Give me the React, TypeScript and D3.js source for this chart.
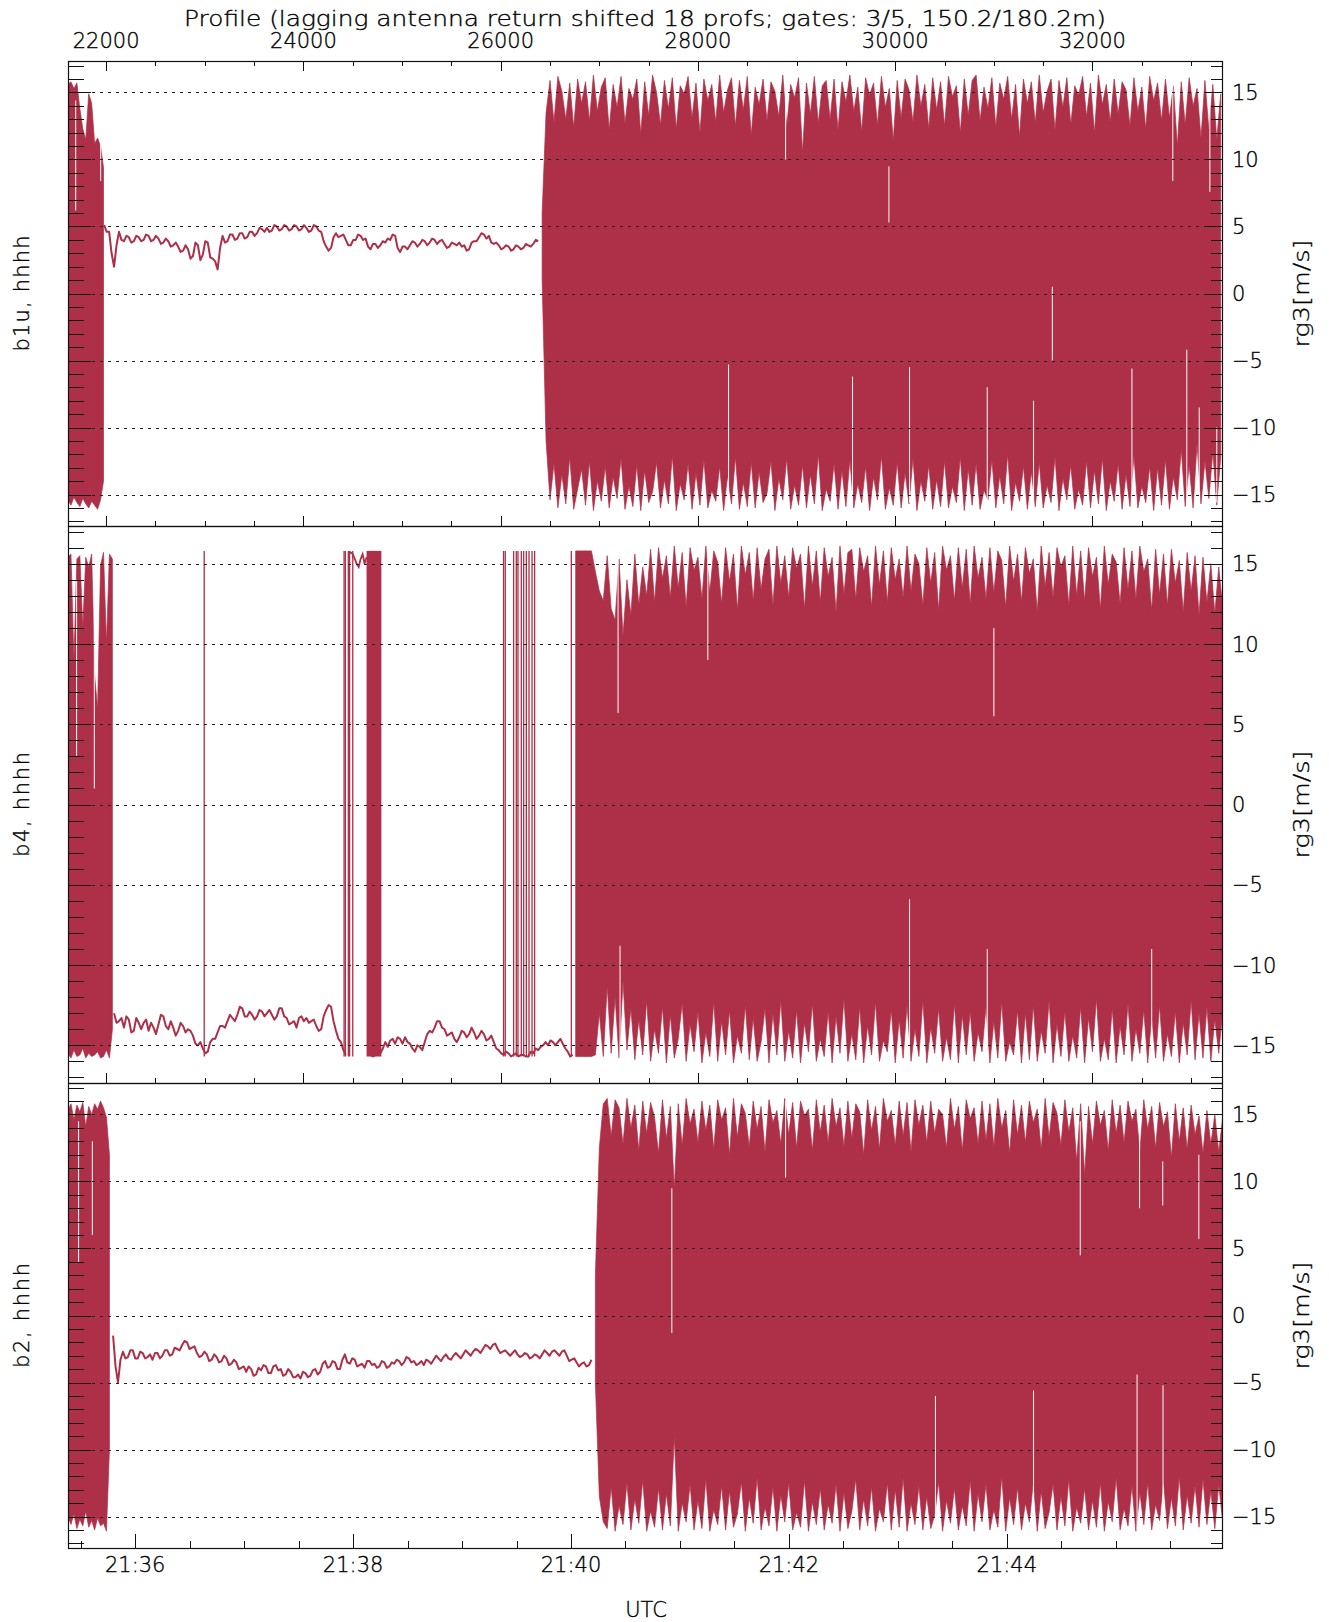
import { useEffect, useRef } from "react";
import * as d3 from "d3";

// ---------- axes and labels ----------
const title = "Profile (lagging antenna return shifted 18 profs; gates: 3/5, 150.2/180.2m)";
const profileDomain = [21613, 33313];
const timeStart = [21, 35, 23.0];
const timeEnd = [21, 45, 58.5];
const yDomain = [-17.35, 17.35];
const yGrid = [-15, -10, -5, 0, 5, 10, 15];
const panelLabels = ["b1u, hhhh", "b4, hhhh", "b2, hhhh"];
const unitLabel = "rg3[m/s]";
const timeLabel = "UTC";

// ---------- b1u ----------
const b1uBlockStart = 21613, b1uBlockStep = 30;
const b1uBlockTop = [15.6, 15.8, 15.3, 15.7, 13.8, 12.3, 11.5, 14.9, 14.2, 11.2, 11.6, 11.0, 9.4];
const b1uBlockBot = [-15.4, -15.8, -15.2, -15.6, -15.9, -15.3, -15.7, -16.0, -15.5, -15.8, -16.1, -15.4, -14.0];
const b1uQuietStart = 21980, b1uQuietStep = 25;
const b1uQuiet = [
  5.1, 4.6, 4.6, 3.0, 2.0, 3.6, 4.6, 4.0, 3.9, 4.3,
  4.2, 3.8, 3.9, 4.3, 4.2, 3.9, 4.0, 4.4, 4.3, 3.9,
  4.0, 4.3, 4.1, 3.7, 3.8, 4.1, 3.9, 3.5, 3.6, 3.8,
  3.5, 3.1, 3.2, 3.6, 3.3, 2.6, 2.8, 3.8, 3.6, 2.5,
  2.9, 3.9, 3.8, 2.7, 2.6, 2.4, 1.8, 3.4, 4.3, 3.8,
  3.9, 4.4, 4.4, 4.0, 4.1, 4.5, 4.5, 4.1, 4.2, 4.6,
  4.6, 4.3, 4.5, 4.9, 4.8, 4.6, 4.9, 4.6, 4.7, 5.1,
  5.0, 4.7, 4.8, 5.1, 5.0, 4.7, 4.8, 5.1, 5.0, 4.7,
  4.8, 5.1, 4.9, 4.6, 4.7, 5.1, 5.0, 4.7, 4.6, 3.9,
  3.5, 3.2, 3.4, 4.2, 4.5, 4.2, 4.3, 4.4, 4.0, 3.6,
  3.6, 4.0, 4.0, 4.4, 4.3, 4.0, 4.1, 3.5, 3.3, 3.7,
  3.7, 3.4, 3.6, 3.9, 3.8, 4.1, 4.0, 4.4, 4.3, 3.4,
  3.1, 3.5, 3.5, 3.3, 3.6, 3.9, 3.8, 3.5, 3.7, 4.0,
  3.9, 3.6, 3.8, 4.1, 4.0, 3.7, 3.9, 4.0, 3.7, 3.4,
  3.5, 3.8, 3.7, 3.6, 3.8, 3.5, 3.6, 3.2, 3.3, 3.8,
  3.9, 3.9, 4.2, 4.5, 4.4, 4.1, 4.3, 3.8, 3.7, 3.8,
  3.6, 3.3, 3.4, 3.6, 3.5, 3.2, 3.3, 3.6, 3.5, 3.3,
  3.4, 3.7, 3.6, 3.5, 3.7, 4.0, 3.9,
];
const b1uNoiseStart = 26420, b1uNoiseStep = 40;
const b1uNoiseTop = [
  6.0, 13.5, 15.9, 12.8, 16.2, 15.1, 13.0, 15.7, 12.4, 16.0,
  14.2, 15.8, 12.9, 16.3, 13.6, 15.4, 16.1, 12.2, 15.6, 13.9,
  16.2, 12.7, 15.3, 14.5, 16.0, 11.9, 15.8, 13.3, 16.3, 15.0,
  12.6, 15.9, 13.8, 16.1, 12.3, 15.5, 14.9, 16.2, 13.1, 15.7,
  12.0, 16.0, 14.4, 15.6, 12.8, 16.3, 13.5, 15.2, 16.1, 12.5,
  15.9, 13.7, 16.2, 11.8, 15.4, 14.1, 16.0, 12.9, 15.8, 15.1,
  13.2, 16.3, 12.4, 15.6, 14.6, 16.1, 10.5, 15.7, 13.4, 16.2,
  12.7, 15.5, 15.9, 13.0, 16.0, 12.2, 15.8, 14.3, 16.3, 13.6,
  15.4, 12.1, 16.1, 14.8, 15.7, 12.6, 16.2, 13.9, 15.3, 11.4,
  15.9, 13.1, 16.0, 15.2, 12.8, 16.3, 14.0, 15.6, 12.3, 16.1,
  13.7, 15.8, 12.5, 16.2, 14.7, 15.5, 12.0, 16.0, 13.3, 15.9,
  16.3, 12.9, 15.4, 13.8, 16.1, 12.4, 15.7, 14.5, 16.2, 13.0,
  15.6, 11.7, 16.0, 14.2, 15.8, 12.7, 16.3, 13.5, 15.1, 16.0,
  12.2, 15.9, 13.9, 16.1, 12.6, 15.5, 14.8, 16.2, 13.2, 15.7,
  12.0, 16.3, 14.1, 15.6, 12.8, 16.0, 13.4, 15.8, 15.2, 12.5,
  16.1, 13.6, 15.4, 12.3, 16.2, 14.4, 15.7, 12.9, 16.0, 13.1,
  15.5, 11.0, 15.8, 12.6, 16.1, 14.0, 15.3, 11.6, 15.9, 12.2,
  15.6, 11.5, 14.9,
];
const b1uNoiseBot = [
  1.0, -11.0, -15.4, -12.7, -16.0, -13.5, -15.7, -12.2, -16.1, -14.6,
  -13.1, -15.8, -12.5, -16.2, -14.0, -15.5, -12.9, -16.0, -13.7, -15.3,
  -12.3, -16.1, -14.4, -15.9, -12.8, -16.2, -13.2, -15.6, -14.8, -12.6,
  -16.0, -13.9, -15.7, -12.1, -16.2, -14.2, -15.4, -12.7, -16.1, -13.4,
  -15.8, -12.4, -16.0, -14.7, -15.5, -12.9, -16.2, -13.6, -15.7, -12.2,
  -16.1, -14.1, -15.9, -12.6, -16.0, -13.3, -15.6, -14.9, -12.5, -16.2,
  -13.8, -15.4, -12.3, -16.1, -14.3, -15.8, -12.8, -16.0, -13.5, -15.7,
  -12.0, -16.2, -14.6, -15.5, -12.7, -16.1, -13.2, -15.9, -12.4, -16.0,
  -14.2, -15.6, -12.9, -16.2, -13.7, -15.4, -12.1, -16.1, -14.5, -15.8,
  -12.6, -16.0, -13.4, -15.7, -12.3, -16.2, -14.0, -15.5, -12.8, -16.1,
  -13.9, -15.9, -12.5, -16.0, -14.4, -15.6, -12.2, -16.2, -13.1, -15.8,
  -12.7, -16.1, -14.7, -15.4, -12.4, -16.0, -13.6, -15.7, -12.0, -16.2,
  -14.1, -15.5, -12.9, -16.1, -13.3, -15.9, -12.6, -16.0, -14.3, -15.6,
  -12.2, -16.2, -13.8, -15.4, -12.8, -16.1, -14.6, -15.8, -12.5, -16.0,
  -13.2, -15.7, -12.3, -16.2, -14.0, -15.5, -12.7, -16.1, -13.5, -15.9,
  -12.1, -16.0, -14.4, -15.6, -12.9, -16.2, -13.0, -15.8, -12.4, -16.1,
  -13.7, -15.4, -11.6, -15.9, -12.8, -16.0, -11.2, -15.7, -12.5, -15.3,
  -11.8, -15.8, -12.2,
];
// [profile, low, high] of white streaks inside the filled noise
const b1uGaps = [
  [21691, 6.2, 14.4], [21944, 8.4, 11.4],
  [28310, -15.6, -5.3], [28888, 10.0, 15.8], [29567, -15.6, -6.2], [29936, 5.3, 9.5],
  [30145, -15.6, -5.5], [30933, -15.6, -7.0], [31402, -15.6, -8.0], [31593, -5.0, 0.5],
  [32400, -15.6, -5.6], [32814, 8.4, 15.8], [32956, -15.6, -4.2], [33082, -15.6, -8.5],
  [33190, 7.6, 15.8], [33260, -15.6, -10.0],
];

// ---------- b4 ----------
const b4BlockStart = 21613, b4BlockStep = 30;
const b4BlockTop = [15.4, 15.6, 9.0, 15.3, 15.5, 11.0, 15.4, 14.8, 15.6, 8.0, 6.0, 14.9, 15.7, 10.0, 15.6, 15.3];
const b4BlockBot = [-15.5, -15.8, -15.3, -15.7, -15.6, -15.2, -15.8, -15.5, -15.7, -15.6, -15.4, -15.8, -15.7, -15.3, -15.8, -14.0];
const b4QuietStart = 22080, b4QuietStep = 25;
const b4Quiet = [
  -13.0, -13.6, -13.5, -13.3, -13.9, -13.2, -13.4, -14.2, -14.1, -13.3,
  -13.6, -14.0, -13.6, -13.4, -14.1, -13.6, -13.9, -14.3, -13.7, -13.1,
  -13.2, -13.8, -14.0, -13.5, -13.9, -14.4, -14.1, -13.6, -13.8, -14.2,
  -14.0, -14.1, -14.4, -14.9, -15.0, -14.8, -15.2, -15.5, -15.4, -14.8,
  -14.6, -14.6, -14.2, -13.8, -13.8, -13.9, -13.5, -13.1, -13.3, -13.5,
  -13.1, -12.6, -12.7, -13.2, -13.2, -12.9, -13.1, -13.4, -13.2, -12.8,
  -12.9, -13.2, -13.0, -12.8, -13.1, -13.4, -13.2, -12.7, -12.7, -13.2,
  -13.3, -13.7, -13.6, -13.5, -13.9, -13.3, -13.2, -13.5, -13.3, -13.6,
  -13.5, -13.4, -13.8, -14.1, -14.0, -13.2, -12.8, -12.5, -12.6, -13.5,
  -14.1, -14.6, -14.8, -15.3, -15.6, null, null, null, null, null,
  null, null, null, -15.6, -15.6, -15.7, -15.6, -15.5, -15.5, -15.2,
  -14.8, -15.1, -14.7, -14.6, -14.9, -14.5, -14.6, -14.9, -14.5, -14.8,
  -14.9, -15.2, -15.4, -15.0, -15.1, -15.3, -14.8, -14.3, -14.1, -14.2,
  -13.9, -13.5, -13.5, -13.9, -14.0, -14.4, -14.3, -14.2, -14.6, -14.8,
  -14.5, -14.1, -14.2, -14.5, -14.3, -13.9, -14.2, -14.6, -14.4, -14.1,
  -14.3, -14.7, -14.6, -14.4, -14.8, -15.2, -15.3, -15.5, -15.6, -15.4,
  -15.5, -15.7, -15.6, -15.5, -15.7, -15.6, -15.6, -15.7, -15.7, -15.4,
  -15.5, -15.2, -15.3, -15.1, -15.0, -14.8, -15.0, -14.7, -14.8, -15.0,
  -14.8, -14.6, -14.9, -15.2, -15.4, -15.7, -15.6,
];
// aliased stretch where the signal wrapped to the top of the range
const b4WrapStart = 24460, b4WrapStep = 20;
const b4Wrap = [15.7, 15.7, 15.6, 15.3, 15.0, 14.8, 15.3, 15.6, 15.0, 15.4];
// single full-range jumps (profile numbers)
const b4Jumps = [22994, 24412, 24425, 24455, 24468, 24500, 26029, 26046, 26131, 26158, 26175, 26209, 26233, 26260, 26287, 26318, 26344, 26716];
// stretches of continuous jumping [from, to]
const b4Solid = [[24640, 24790]];
const b4NoiseStart = 26760, b4NoiseStep = 40;
const b4NoiseTop = [
  15.8, 15.8, 15.8, 15.8, 15.8, 14.5, 13.3, 12.7, 15.5, 12.2,
  11.5, 15.3, 10.5, 14.0, 11.8, 15.6, 12.4, 14.8, 13.0, 15.9,
  12.6, 16.0, 14.1, 15.5, 12.9, 16.1, 13.5, 15.7, 12.3, 16.0,
  14.6, 15.4, 12.8, 16.1, 13.2, 15.8, 15.1, 12.5, 16.0, 13.9,
  15.6, 12.1, 16.1, 14.3, 15.7, 12.7, 16.0, 13.4, 15.3, 15.9,
  12.4, 16.1, 13.8, 15.5, 12.9, 16.0, 14.7, 15.6, 12.2, 16.1,
  13.6, 15.8, 12.6, 16.0, 14.2, 15.4, 12.0, 16.1, 13.1, 15.7,
  15.9, 12.8, 16.0, 14.5, 15.5, 12.3, 16.1, 13.7, 15.8, 12.6,
  16.0, 14.0, 15.3, 12.9, 16.1, 13.3, 15.6, 15.0, 12.4, 16.0,
  13.8, 15.7, 12.1, 16.1, 14.6, 15.5, 12.7, 16.0, 13.5, 15.9,
  12.5, 16.1, 14.1, 15.4, 12.8, 16.0, 13.2, 15.8, 15.2, 12.3,
  16.1, 13.9, 15.6, 12.6, 16.0, 14.4, 15.3, 12.0, 16.1, 13.6,
  15.7, 12.9, 16.0, 14.8, 15.5, 12.4, 16.1, 13.0, 15.8, 12.7,
  16.0, 14.2, 15.4, 12.2, 16.1, 13.7, 15.6, 15.1, 12.5, 16.0,
  13.4, 15.8, 12.8, 16.1, 14.5, 15.3, 12.1, 15.9, 13.1, 15.6,
  12.4, 15.9, 13.8, 15.2, 12.0, 15.7, 13.3, 15.5, 11.8, 15.4,
  12.6, 15.0, 11.9, 14.8, 12.3,
];
const b4NoiseBot = [
  -15.7, -15.7, -15.7, -15.7, -15.7, -15.6, -13.0, -15.7, -11.3, -15.5,
  -12.0, -15.8, -11.0, -15.3, -12.7, -15.9, -13.4, -15.6, -12.2, -16.0,
  -14.0, -15.5, -12.6, -16.1, -13.1, -15.8, -14.6, -12.4, -16.0, -13.7,
  -15.4, -12.9, -16.1, -14.2, -15.7, -12.3, -16.0, -13.5, -15.6, -12.8,
  -16.1, -14.4, -15.5, -12.5, -15.9, -13.3, -16.0, -14.8, -12.7, -16.1,
  -13.0, -15.6, -12.2, -16.0, -14.1, -15.8, -12.8, -16.1, -13.6, -15.4,
  -12.4, -16.0, -14.6, -15.7, -12.9, -16.1, -13.2, -15.5, -12.1, -16.0,
  -14.3, -15.9, -12.6, -16.1, -13.8, -15.6, -12.3, -16.0, -14.7, -15.4,
  -12.8, -16.1, -13.4, -15.8, -12.5, -16.0, -14.0, -15.7, -12.2, -16.1,
  -13.9, -15.5, -12.7, -16.0, -14.5, -15.9, -12.4, -16.1, -13.1, -15.6,
  -12.9, -16.0, -14.2, -15.4, -12.6, -16.1, -13.5, -15.8, -12.3, -16.0,
  -14.8, -15.6, -12.8, -16.1, -13.0, -15.9, -12.5, -16.0, -14.1, -15.5,
  -12.2, -16.1, -13.7, -15.7, -12.9, -16.0, -14.4, -15.8, -12.6, -16.1,
  -13.3, -15.4, -12.1, -16.0, -14.6, -15.9, -12.7, -16.1, -13.8, -15.6,
  -12.4, -16.0, -14.0, -15.5, -12.8, -16.1, -13.2, -15.8, -12.5, -16.0,
  -14.3, -15.7, -12.9, -16.1, -13.6, -15.6, -12.2, -15.9, -13.0, -15.8,
  -12.6, -16.0, -13.4, -15.5, -12.9,
];
const b4Gaps = [
  [21700, 3.0, 14.0], [21880, 1.0, 12.0],
  [27190, 5.7, 16.0], [27210, -16.0, -8.8], [28100, 9.0, 16.0], [30145, -16.0, -5.9],
  [30933, -16.0, -9.0], [31000, 5.5, 11.0], [32600, -16.0, -9.0],
];

// ---------- b2 ----------
const b2BlockStart = 21613, b2BlockStep = 30;
const b2BlockTop = [15.3, 15.8, 14.6, 15.7, 15.2, 15.9, 14.1, 15.6, 15.0, 15.8, 15.4, 16.0, 15.5, 14.8, 12.0];
const b2BlockBot = [-15.0, -15.6, -14.8, -15.9, -15.2, -15.7, -14.6, -15.8, -15.3, -16.0, -15.1, -15.7, -15.5, -16.1, -10.0];
const b2QuietStart = 22070, b2QuietStep = 25;
const b2Quiet = [
  -1.5, -3.8, -5.0, -3.3, -2.7, -3.2, -3.1, -2.6, -2.6, -3.2,
  -3.2, -2.7, -2.8, -3.2, -3.1, -2.9, -3.3, -2.8, -2.8, -3.2,
  -3.0, -2.6, -2.6, -3.0, -2.9, -2.4, -2.5, -2.6, -2.2, -1.9,
  -2.0, -2.5, -2.4, -2.3, -2.8, -3.1, -3.0, -2.7, -2.9, -3.4,
  -3.3, -2.9, -3.1, -3.5, -3.4, -3.0, -3.2, -3.7, -3.6, -3.3,
  -3.5, -4.0, -3.9, -3.8, -4.2, -3.8, -4.0, -4.5, -4.4, -3.9,
  -4.1, -3.7, -3.8, -4.3, -4.3, -3.8, -3.7, -4.1, -4.0, -4.5,
  -4.4, -4.0, -4.2, -4.6, -4.6, -4.4, -4.7, -4.2, -4.3, -4.6,
  -4.5, -4.1, -4.0, -4.4, -4.2, -3.6, -3.4, -3.9, -3.8, -3.4,
  -3.5, -4.0, -4.0, -3.3, -2.9, -3.5, -3.6, -3.2, -3.3, -3.8,
  -3.7, -3.6, -3.9, -3.4, -3.4, -3.7, -3.6, -3.9, -3.8, -3.4,
  -3.5, -3.9, -3.8, -3.5, -3.6, -3.3, -3.4, -3.7, -3.5, -3.1,
  -3.2, -3.5, -3.4, -3.7, -3.6, -3.4, -3.7, -3.3, -3.4, -3.6,
  -3.3, -3.0, -3.2, -3.4, -3.1, -2.9, -3.2, -3.3, -3.0, -2.8,
  -3.0, -3.2, -2.9, -2.6, -2.8, -3.0, -2.7, -2.5, -2.6, -2.8,
  -2.5, -2.2, -2.3, -2.5, -2.2, -2.1, -2.5, -2.8, -2.7, -2.6,
  -2.8, -3.0, -2.8, -2.6, -2.9, -3.1, -3.0, -2.8, -2.9, -3.2,
  -3.1, -2.9, -3.0, -3.2, -2.9, -2.6, -2.8, -3.0, -2.7, -2.6,
  -2.8, -3.0, -2.7, -2.6, -3.0, -3.4, -3.3, -3.2, -3.5, -3.8,
  -3.6, -3.5, -3.8, -3.7, -3.3,
];
const b2NoiseStart = 26960, b2NoiseStep = 40;
const b2NoiseTop = [
  3.0, 12.5, 15.8, 16.2, 13.4, 16.1, 15.5, 12.8, 16.2, 14.0,
  15.7, 12.3, 16.0, 13.6, 15.9, 14.8, 12.1, 16.1, 13.2, 15.6,
  9.5, 15.8, 12.7, 16.2, 14.3, 15.4, 12.9, 16.0, 13.8, 15.7,
  12.4, 16.1, 14.6, 15.5, 12.0, 16.2, 13.3, 15.8, 15.1, 12.6,
  16.0, 13.9, 15.6, 12.2, 16.1, 14.4, 15.3, 12.8, 16.2, 13.5,
  15.9, 12.5, 16.0, 14.9, 15.4, 12.3, 16.1, 13.7, 15.7, 12.9,
  16.2, 14.1, 15.5, 12.6, 16.0, 13.2, 15.8, 15.2, 12.0, 16.1,
  13.8, 15.6, 12.4, 16.2, 14.5, 15.3, 12.7, 16.0, 13.4, 15.9,
  12.2, 16.1, 14.2, 15.7, 12.9, 16.0, 13.6, 15.4, 15.0, 12.5,
  16.2, 13.9, 15.6, 12.3, 16.1, 14.7, 15.5, 12.8, 16.0, 13.1,
  15.8, 12.6, 16.2, 14.0, 15.3, 12.1, 16.1, 13.5, 15.7, 12.9,
  16.0, 14.4, 15.4, 12.4, 16.2, 13.3, 15.9, 15.1, 12.7, 16.1,
  13.7, 15.5, 11.5, 15.8, 10.5, 15.6, 12.8, 16.0, 14.2, 15.3,
  12.3, 16.1, 13.6, 15.7, 12.9, 16.0, 14.5, 15.4, 12.2, 16.1,
  13.9, 15.6, 12.5, 15.9, 14.1, 15.2, 11.8, 15.8, 13.0, 15.5,
  12.4, 15.7, 13.5, 14.9, 12.1, 15.3, 12.8, 15.0, 12.2, 14.8,
];
const b2NoiseBot = [
  -5.0, -13.5, -15.4, -15.9, -12.8, -16.1, -14.2, -15.6, -12.5, -16.0,
  -13.7, -15.5, -12.3, -16.1, -14.6, -15.8, -12.9, -16.0, -13.3, -15.7,
  -9.0, -16.1, -14.0, -15.4, -12.6, -16.0, -13.8, -15.9, -12.2, -16.1,
  -14.5, -15.6, -12.7, -16.0, -13.1, -15.8, -14.8, -12.4, -16.1, -13.6,
  -15.5, -12.1, -16.0, -14.3, -15.7, -12.8, -16.1, -13.4, -15.4, -12.5,
  -16.0, -14.7, -15.8, -12.3, -16.1, -13.9, -15.6, -12.9, -16.0, -14.1,
  -15.5, -12.6, -16.1, -13.2, -15.9, -14.6, -12.2, -16.0, -13.7, -15.7,
  -12.8, -16.1, -14.4, -15.4, -12.5, -16.0, -13.0, -15.8, -12.1, -16.1,
  -14.0, -15.6, -12.7, -16.0, -13.5, -15.9, -14.9, -12.4, -16.1, -13.8,
  -15.5, -12.9, -16.0, -14.2, -15.7, -12.3, -16.1, -13.3, -15.4, -12.6,
  -16.0, -14.5, -15.8, -12.0, -16.1, -13.6, -15.6, -12.8, -16.0, -14.0,
  -15.4, -12.4, -16.1, -13.1, -15.9, -14.7, -12.6, -16.0, -13.5, -15.7,
  -12.2, -16.1, -14.3, -15.5, -12.9, -16.0, -13.8, -15.8, -12.5, -16.1,
  -13.9, -15.4, -12.1, -16.0, -14.4, -15.7, -12.7, -16.1, -13.2, -15.6,
  -12.5, -16.0, -14.1, -15.3, -12.3, -15.9, -13.6, -15.7, -12.0, -16.0,
  -13.4, -15.5, -12.7, -15.8, -12.2, -15.6, -13.1, -15.9, -12.6, -15.4,
];
const b2Gaps = [
  [21720, 4.0, 14.5], [21860, 6.0, 13.0],
  [27735, -1.3, 9.5], [28888, 10.3, 16.0], [30408, -16.0, -6.0], [31402, -16.0, -5.6],
  [31876, 4.5, 14.5], [32452, -16.0, -4.4], [32477, 8.0, 16.0], [32712, 8.2, 11.5],
  [32715, -16.0, -5.2], [33078, 5.7, 12.0],
];

const RED = "#ad2f48";
const INK = "#111";
const FONT = "'DejaVu Sans', sans-serif";

export default function App() {
  const ref = useRef<SVGSVGElement>(null);

  useEffect(() => {
    if (!ref.current) return;
    const W = 1329, H = 1622;
    const L = 68, R = 1222;
    const frames = [[61, 526], [526, 1083], [1083, 1548]];
    const labelLen = [116, 105, 105];

    const svg = d3.select(ref.current).attr("width", W).attr("height", H);
    svg.selectAll("*").remove();
    svg.append("rect").attr("width", W).attr("height", H).attr("fill", "white");

    const x = d3.scaleLinear().domain(profileDomain).range([L, R]);
    const t0 = new Date(Date.UTC(2000, 0, 1, timeStart[0], timeStart[1], 0, timeStart[2] * 1000));
    const t1 = new Date(Date.UTC(2000, 0, 1, timeEnd[0], timeEnd[1], 0, timeEnd[2] * 1000));
    const xt = d3.scaleUtc().domain([t0, t1]).range([L, R]);

    const band = (start: number, step: number, hi: number[], lo: number[]) =>
      hi.map((v, i) => ({ p: start + step * i, hi: v, lo: lo[i] }));
    const series = (start: number, step: number, vals: (number | null)[]) =>
      vals.map((v, i) => ({ p: start + step * i, v }));

    const none = [] as { p: number; v: number | null }[];
    const panels = [
      {
        block: band(b1uBlockStart, b1uBlockStep, b1uBlockTop, b1uBlockBot),
        quiet: series(b1uQuietStart, b1uQuietStep, b1uQuiet),
        noise: band(b1uNoiseStart, b1uNoiseStep, b1uNoiseTop, b1uNoiseBot),
        gaps: b1uGaps, wrap: none, jumps: [] as number[], solid: [] as number[][],
      },
      {
        block: band(b4BlockStart, b4BlockStep, b4BlockTop, b4BlockBot),
        quiet: series(b4QuietStart, b4QuietStep, b4Quiet),
        noise: band(b4NoiseStart, b4NoiseStep, b4NoiseTop, b4NoiseBot),
        gaps: b4Gaps, wrap: series(b4WrapStart, b4WrapStep, b4Wrap), jumps: b4Jumps, solid: b4Solid,
      },
      {
        block: band(b2BlockStart, b2BlockStep, b2BlockTop, b2BlockBot),
        quiet: series(b2QuietStart, b2QuietStep, b2Quiet),
        noise: band(b2NoiseStart, b2NoiseStep, b2NoiseTop, b2NoiseBot),
        gaps: b2Gaps, wrap: none, jumps: [] as number[], solid: [] as number[][],
      },
    ];

    const defs = svg.append("defs");
    const txt = (sel: any) => sel.attr("font-family", FONT).attr("font-size", 21)
      .attr("font-weight", 200).attr("fill", "#000")
      .attr("stroke", "#000").attr("stroke-width", 0.35);

    panels.forEach((pn, k) => {
      const [top, bottom] = frames[k];
      const y = d3.scaleLinear().domain(yDomain).range([bottom, top]);
      const g = svg.append("g");

      defs.append("clipPath").attr("id", `clip${k}`)
        .append("rect").attr("x", L).attr("y", top).attr("width", R - L).attr("height", bottom - top);
      const dg = g.append("g").attr("clip-path", `url(#clip${k})`);

      const area = d3.area<{ p: number; hi: number; lo: number }>()
        .x(d => x(d.p)).y0(d => y(d.lo)).y1(d => y(d.hi));
      const line = d3.line<{ p: number; v: number | null }>()
        .defined(d => d.v != null).x(d => x(d.p)).y(d => y(d.v as number));

      // solid stretches and single jumps
      for (const [a, b] of pn.solid) {
        dg.append("rect").attr("x", x(a)).attr("width", x(b) - x(a))
          .attr("y", y(15.8)).attr("height", y(-15.7) - y(15.8)).attr("fill", RED);
      }
      for (const p of pn.jumps) {
        dg.append("line").attr("x1", x(p)).attr("x2", x(p)).attr("y1", y(-15.7)).attr("y2", y(15.8))
          .attr("stroke", RED).attr("stroke-width", 1.3);
      }

      // noisy stretches
      for (const b of [pn.block, pn.noise]) {
        dg.append("path").attr("d", area(b)).attr("fill", RED)
          .attr("stroke", RED).attr("stroke-width", 0.7).attr("stroke-linejoin", "round");
      }
      // quiet stretch
      dg.append("path").attr("d", line(pn.quiet)).attr("fill", "none")
        .attr("stroke", RED).attr("stroke-width", 2).attr("stroke-linejoin", "round");
      if (pn.wrap.length) {
        dg.append("path").attr("d", line(pn.wrap)).attr("fill", "none")
          .attr("stroke", RED).attr("stroke-width", 1.8);
      }
      // white streaks
      for (const [p, lo, hi] of pn.gaps) {
        dg.append("line").attr("x1", x(p)).attr("x2", x(p)).attr("y1", y(lo)).attr("y2", y(hi))
          .attr("stroke", "white").attr("stroke-width", 1.1).attr("opacity", 0.9);
      }

      // dotted grid on top of the data
      for (const v of yGrid) {
        g.append("line").attr("x1", L).attr("x2", R)
          .attr("y1", Math.round(y(v)) + 0.5).attr("y2", Math.round(y(v)) + 0.5)
          .attr("stroke", "#222").attr("stroke-width", 1).attr("stroke-dasharray", "3,5");
      }

      // y ticks, left and right
      for (const v of d3.range(-17, 18)) {
        const yy = Math.round(y(v)) + 0.5;
        const major = v % 5 === 0;
        g.append("line").attr("x1", L).attr("x2", L + (major ? 23 : 16)).attr("y1", yy).attr("y2", yy)
          .attr("stroke", INK).attr("stroke-width", 1);
        g.append("line").attr("x1", R - (major ? 17 : 11)).attr("x2", R).attr("y1", yy).attr("y2", yy)
          .attr("stroke", INK).attr("stroke-width", 1);
      }
      for (const v of yGrid) {
        txt(g.append("text").attr("x", 1232).attr("y", y(v)).attr("dy", "0.36em"))
          .text(v < 0 ? `\u2212${-v}` : `${v}`);
      }

      // profile ticks
      const pt = d3.range(22000, 33500, 500);
      const profTicks = (yy: number, dir: number) => {
        for (const p of pt) {
          const len = p % 2000 === 0 ? 10 : 5;
          const xx = Math.round(x(p)) + 0.5;
          g.append("line").attr("x1", xx).attr("x2", xx).attr("y1", yy).attr("y2", yy + dir * len)
            .attr("stroke", INK).attr("stroke-width", 1);
        }
      };
      if (k === 0) profTicks(top, 1);
      if (k < 2) profTicks(bottom, -1);

      // frame
      g.append("rect").attr("x", L + 0.5).attr("y", top + 0.5).attr("width", R - L).attr("height", bottom - top)
        .attr("fill", "none").attr("stroke", INK).attr("stroke-width", 1.2);

      // labels
      const cy = (top + bottom) / 2;
      txt(g.append("text").attr("transform", `translate(21,${cy}) rotate(-90)`)
        .attr("text-anchor", "middle").attr("dy", "0.36em"))
        .attr("textLength", labelLen[k]).attr("lengthAdjust", "spacing")
        .text(panelLabels[k]);
      txt(g.append("text").attr("transform", `translate(1301,${cy}) rotate(-90)`)
        .attr("text-anchor", "middle").attr("dy", "0.36em"))
        .attr("textLength", 108).attr("lengthAdjust", "spacingAndGlyphs")
        .text(unitLabel);
    });

    // top profile axis labels
    for (const p of d3.range(22000, 33000, 2000)) {
      txt(svg.append("text").attr("x", x(p)).attr("y", 48).attr("text-anchor", "middle")).text(p);
    }
    txt(svg.append("text").attr("x", 645).attr("y", 26).attr("text-anchor", "middle"))
      .attr("textLength", 922).attr("lengthAdjust", "spacingAndGlyphs")
      .text(title);

    // bottom time axis
    const yb = frames[2][1];
    for (const t of xt.ticks(d3.utcSecond.every(30)!)) {
      const major = t.getUTCSeconds() === 0 && t.getUTCMinutes() % 2 === 0;
      const xx = Math.round(xt(t)) + 0.5;
      svg.append("line").attr("x1", xx).attr("x2", xx).attr("y1", yb).attr("y2", yb - (major ? 14 : 7))
        .attr("stroke", INK).attr("stroke-width", 1);
      if (major) {
        txt(svg.append("text").attr("x", xt(t)).attr("y", 1572).attr("text-anchor", "middle"))
          .text(d3.utcFormat("%H:%M")(t));
      }
    }
    txt(svg.append("text").attr("x", 646).attr("y", 1617).attr("text-anchor", "middle")).text(timeLabel);
  }, []);

  return <svg ref={ref} style={{ position: "absolute", left: 0, top: 0, display: "block" }} />;
}
